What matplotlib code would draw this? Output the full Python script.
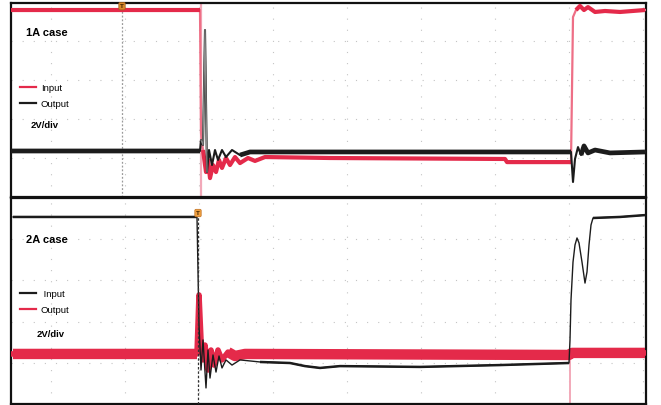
import numpy as np
import matplotlib
matplotlib.use("Agg")
import matplotlib.pyplot as plt
from matplotlib.lines import Line2D

plt.rcParams['font.family'] = ['Liberation Sans', 'DejaVu Sans']

RED = '#e42a4a'
PINK = '#f2a9b9'
BLACK = '#1c1c1c'

# ---- caso 1A: indice de muestra / voltios (2V/div) ----
t_in_1a = [0, 189, 190, 192, 195, 197, 199, 202, 205, 208, 211, 215, 219, 224, 229, 237,
           244, 254, 319, 494, 496, 560, 562, 565, 569, 573, 577, 584, 594, 609, 634]
v_in_1a = [9.59, 9.59, 3.28, 2.41, 1.28, 1.90, 0.97, 1.64, 1.28, 1.90, 1.49, 2.00, 1.64, 2.05,
           1.74, 2.00, 1.85, 2.05, 2.00, 1.95, 1.79, 1.79, 9.23, 9.59, 9.80, 9.59, 9.74, 9.49,
           9.54, 9.49, 9.59]
t_out_1a = [0, 189, 190, 192, 194, 196, 198, 201, 204, 207, 211, 215, 221, 229, 239, 560,
            562, 564, 567, 570, 573, 577, 584, 599, 634]
v_out_1a = [2.36, 2.36, 2.92, 2.67, 8.56, 1.28, 2.41, 1.64, 2.41, 1.90, 2.41, 2.05, 2.41,
            2.15, 2.31, 2.31, 0.77, 1.95, 2.56, 2.15, 2.62, 2.26, 2.41, 2.26, 2.31]
thin_in_1a = [(190, 190), (562, 562)]
thin_out_1a = [(190, 221), (562, 567)]
spike_out_1a = (192, 196)
trig_1a = 111
pink_1a = 190

# ---- caso 2A ----
t_in_2a = [2, 186, 188, 190, 192, 195, 197, 199, 202, 205, 208, 211, 215, 221, 229, 249, 279,
           294, 309, 329, 409, 489, 558, 559, 560, 562, 564, 566, 568, 571, 574, 576, 578,
           580, 582, 609, 634]
v_in_2a = [9.08, 9.08, 3.83, 1.65, 3.11, 0.78, 2.62, 1.26, 2.38, 1.55, 2.33, 1.75, 2.14, 1.89,
           2.14, 2.04, 1.99, 1.84, 1.75, 1.84, 1.80, 1.89, 1.99, 3.11, 5.05, 6.89, 7.72, 8.06,
           7.82, 6.89, 5.87, 6.41, 7.72, 8.69, 9.03, 9.08, 9.17]
t_out_2a = [2, 186, 188, 190, 192, 194, 197, 200, 203, 207, 211, 217, 224, 234, 558, 561, 634]
v_out_2a = [2.43, 2.43, 5.29, 3.11, 2.14, 2.86, 1.65, 2.62, 1.89, 2.62, 2.14, 2.52, 2.33,
            2.43, 2.38, 2.48, 2.48]
thin_in_2a = [(188, 229), (559, 580)]
thin_out_2a = [(188, 211)]
trig_2a = 187
trig_top_2a = 9.27
pink_2a = 559

x_grid = [40, 114, 188, 262, 336, 410, 484, 558, 632]
y_grid = [2, 4, 6, 8]


def trace(ax, t, v, thin_windows, color, lw_band, lw_thin, thin_color=None, z=3,
          spike=None, spike_color=None):
    t = np.asarray(t)
    v = np.asarray(v, dtype=float)
    thin = np.zeros(len(t), dtype=bool)
    for a, b in thin_windows:
        thin |= (t >= a) & (t <= b)
    ax.plot(t, v, color=thin_color or color, lw=lw_thin, zorder=z)
    ax.plot(t, np.ma.masked_where(thin, v), color=color, lw=lw_band, zorder=z,
            solid_capstyle='butt')
    if spike is not None:
        sel = (t >= spike[0] - 2) & (t <= spike[1])
        ax.plot(t[sel], v[sel], color=spike_color, lw=0.9, zorder=z + 0.5)


def base(ax, ymax):
    ax.set_xlim(0, 635)
    ax.set_ylim(0, ymax)
    ax.set_xticks([])
    ax.set_yticks([])
    for x in x_grid:
        ax.axvline(x, color='#c4c4c4', lw=0.8, ls=(0, (1, 9)), zorder=1)
    for y in y_grid:
        ax.axhline(y, color='#c4c4c4', lw=0.8, ls=(0, (1, 9)), zorder=1)
    for s in ax.spines.values():
        s.set_linewidth(1.6)
        s.set_color('#111111')


fig = plt.figure(figsize=(6.61, 4.05), dpi=100)
ax1 = fig.add_axes([11 / 661, 208 / 405, 635 / 661, 194 / 405])
ax2 = fig.add_axes([11 / 661, 1 / 405, 635 / 661, 206 / 405])

# panel superior
base(ax1, 9.95)
ax1.axvline(trig_1a, color='#9a9a9a', lw=0.9, ls=(0, (1.5, 1.5)), zorder=2)
ax1.axvline(pink_1a, color=PINK, lw=1.6, zorder=2)
trace(ax1, t_in_1a, v_in_1a, thin_in_1a, RED, 3.0, 1.6, thin_color='#ee6f86')
trace(ax1, t_out_1a, v_out_1a, thin_out_1a, BLACK, 3.4, 1.5, z=4,
      spike=spike_out_1a, spike_color='#8a8a8a')
ax1.text(trig_1a, 9.79, 'T', fontsize=4.5, color='#3a2000', ha='center', va='center',
         fontweight='bold', zorder=6,
         bbox=dict(boxstyle='round,pad=0.2', fc='#d9892c', ec='#a0601a', lw=0.5))
ax1.text(0.024, 0.83, '1A case', transform=ax1.transAxes, fontsize=8, fontweight='bold')
ax1.text(0.031, 0.357, '2V/div', transform=ax1.transAxes, fontsize=6.8, fontweight='bold')
h1 = [Line2D([], [], color=RED, lw=1.6), Line2D([], [], color=BLACK, lw=1.6)]
ax1.legend(h1, ['Input', 'Output'], loc='upper left', bbox_to_anchor=(0.014, 0.585),
           frameon=False, fontsize=6.8, handlelength=1.7, handletextpad=0.5,
           labelspacing=0.75, borderpad=0, borderaxespad=0)

# panel inferior
base(ax2, 10.0)
ax2.vlines(pink_2a, 0, 2.38, color=PINK, lw=1.4, zorder=2)
trace(ax2, t_out_2a, v_out_2a, thin_out_2a, RED, 7.5, 4.0, z=3)
trace(ax2, t_in_2a, v_in_2a, thin_in_2a, BLACK, 1.8, 1.0, z=4)
ax2.vlines(trig_2a, 0, trig_top_2a, color='#333333', lw=0.9, ls=(0, (2, 1.5)), zorder=5)
ax2.text(trig_2a, trig_top_2a, 'T', fontsize=4.5, color='#3a2000', ha='center', va='center',
         fontweight='bold', zorder=6,
         bbox=dict(boxstyle='round,pad=0.2', fc='#f0a040', ec='#c07020', lw=0.5))
ax2.text(0.024, 0.78, '2A case', transform=ax2.transAxes, fontsize=8, fontweight='bold')
ax2.text(0.04, 0.325, '2V/div', transform=ax2.transAxes, fontsize=6.8, fontweight='bold')
h2 = [Line2D([], [], color=BLACK, lw=1.6), Line2D([], [], color=RED, lw=1.6)]
ax2.legend(h2, [' Input', 'Output'], loc='upper left', bbox_to_anchor=(0.014, 0.555),
           frameon=False, fontsize=6.8, handlelength=1.7, handletextpad=0.5,
           labelspacing=0.75, borderpad=0, borderaxespad=0)

fig.savefig('out.png', dpi=100)
